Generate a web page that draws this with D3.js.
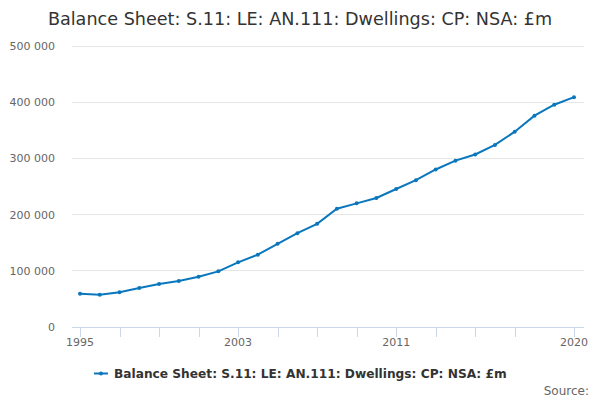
<!DOCTYPE html>
<html><head><meta charset="utf-8">
<script src="https://cdn.jsdelivr.net/npm/d3@7"></script>
<style>body{margin:0;background:#fff;}svg{font-family:"DejaVu Sans",sans-serif;}</style>
</head><body>
<svg id="c" width="600" height="400"></svg>
<script>
const title = "Balance Sheet: S.11: LE: AN.111: Dwellings: CP: NSA: £m";
const years = [1995,1996,1997,1998,1999,2000,2001,2002,2003,2004,2005,2006,2007,2008,2009,2010,2011,2012,2013,2014,2015,2016,2017,2018,2019,2020];
const values = [59000,57500,62000,69500,76500,82000,89500,99000,115000,128700,148000,167000,183500,210500,220000,229500,245500,261300,280300,296000,307000,324000,347500,376000,395500,409000];
const yTicks = [0,100000,200000,300000,400000,500000];
const xTickMarks = [1995,1997,1999,2001,2003,2005,2007,2009,2011,2013,2015,2017,2020];
const xLabels = [1995,2003,2011,2020];

const svg = d3.select("#c");
const L=72, R=584, T=46, B=327;
const x = d3.scaleLinear().domain([1995,2020]).range([80,574]);
const y = d3.scaleLinear().domain([0,500000]).range([B,T]);
const fmt = v => d3.format(",")(v).replace(/,/g," ");

svg.append("text").attr("x",300).attr("y",25).attr("text-anchor","middle")
  .attr("font-size",17.6).attr("fill","#333").text(title);

const g = svg.append("g");
g.selectAll("line.grid").data(yTicks.filter(d=>d>0)).join("line")
  .attr("x1",L).attr("x2",R).attr("y1",d=>y(d)).attr("y2",d=>y(d))
  .attr("stroke","#e6e6e6").attr("stroke-width",1).attr("shape-rendering","crispEdges");
g.selectAll("text.yl").data(yTicks).join("text")
  .attr("x",55).attr("y",d=>y(d)+4).attr("text-anchor","end")
  .attr("font-size",11).attr("fill","#666").text(fmt);

g.append("line").attr("x1",L).attr("x2",R).attr("y1",B+0.5).attr("y2",B+0.5)
  .attr("stroke","#ccd6eb");
g.selectAll("line.xt").data(xTickMarks).join("line")
  .attr("x1",d=>Math.round(x(d))+0.5).attr("x2",d=>Math.round(x(d))+0.5)
  .attr("y1",B).attr("y2",B+10).attr("stroke","#ccd6eb");
g.selectAll("text.xl").data(xLabels).join("text")
  .attr("x",d=>x(d)).attr("y",B+19).attr("text-anchor","middle")
  .attr("font-size",11).attr("fill","#666").text(d=>d);

const color = "#0a77bd";
const data = years.map((yr,i)=>({yr,v:values[i]}));
g.append("path").datum(data)
  .attr("d",d3.line().x(d=>x(d.yr)).y(d=>y(d.v)))
  .attr("fill","none").attr("stroke",color).attr("stroke-width",2);
g.selectAll("circle").data(data).join("circle")
  .attr("cx",d=>x(d.yr)).attr("cy",d=>y(d.v)).attr("r",2).attr("fill",color);

const lg = svg.append("g");
lg.append("line").attr("x1",94).attr("x2",108).attr("y1",373.5).attr("y2",373.5).attr("stroke",color).attr("stroke-width",2);
lg.append("circle").attr("cx",101).attr("cy",373.5).attr("r",2).attr("fill",color);
lg.append("text").attr("x",114).attr("y",378).attr("font-size",12.2).attr("font-weight","bold")
  .attr("fill","#333").text(title);
svg.append("text").attr("x",589).attr("y",395).attr("text-anchor","end")
  .attr("font-size",12).attr("fill","#666").text("Source:");
</script>
</body></html>
